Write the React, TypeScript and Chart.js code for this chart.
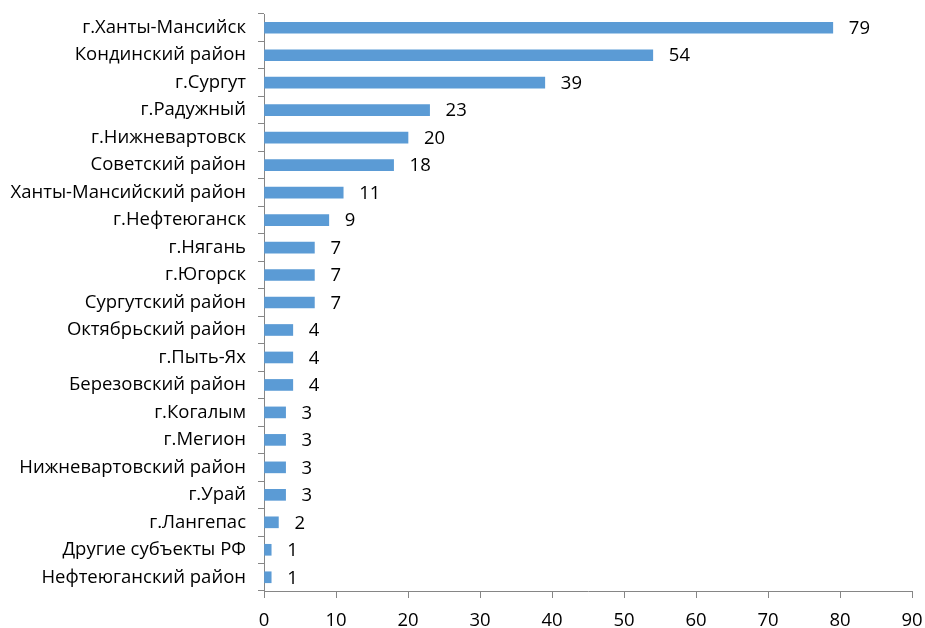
import React, { useEffect, useRef } from "react";
import { Chart, registerables } from "chart.js";

Chart.register(...registerables);

const categories = [
  "г.Ханты-Мансийск",
  "Кондинский район",
  "г.Сургут",
  "г.Радужный",
  "г.Нижневартовск",
  "Советский район",
  "Ханты-Мансийский район",
  "г.Нефтеюганск",
  "г.Нягань",
  "г.Югорск",
  "Сургутский район",
  "Октябрьский район",
  "г.Пыть-Ях",
  "Березовский район",
  "г.Когалым",
  "г.Мегион",
  "Нижневартовский район",
  "г.Урай",
  "г.Лангепас",
  "Другие субъекты РФ",
  "Нефтеюганский район",
];
const values = [79, 54, 39, 23, 20, 18, 11, 9, 7, 7, 7, 4, 4, 4, 3, 3, 3, 3, 2, 1, 1];
const xMin = 0;
const xMax = 90;
const xStep = 10;

const FONT = "'Open Sans', sans-serif";
const FSIZE = 18.5;

const valueLabels = {
  id: "valueLabels",
  afterDatasetsDraw(chart: any) {
    const ctx = chart.ctx;
    const meta = chart.getDatasetMeta(0);
    ctx.save();
    ctx.font = `${FSIZE}px ${FONT}`;
    ctx.fillStyle = "#000";
    ctx.textAlign = "left";
    ctx.textBaseline = "middle";
    meta.data.forEach((bar: any, i: number) => {
      ctx.fillText(String(values[i]), bar.x + 16, bar.y + 1);
    });
    ctx.restore();
  },
};

export default function App() {
  const ref = useRef<HTMLCanvasElement>(null);
  useEffect(() => {
    document.body.style.margin = "0";
    const chart = new Chart(ref.current!, {
      type: "bar",
      data: {
        labels: categories,
        datasets: [
          {
            data: values,
            backgroundColor: "#5B9BD5",
            barThickness: 11,
          },
        ],
      },
      options: {
        indexAxis: "y",
        animation: false,
        responsive: false,
        layout: { padding: { top: 14, right: 13, left: 0, bottom: 0 } },
        plugins: { legend: { display: false }, tooltip: { enabled: false } },
        scales: {
          x: {
            min: xMin,
            max: xMax,
            ticks: { stepSize: xStep, color: "#000", font: { family: FONT, size: FSIZE }, padding: 12 },
            grid: { drawOnChartArea: false, drawTicks: true, tickLength: 7, color: "#868686" },
            border: { color: "#868686" },
            afterFit: (s: any) => { s.height = 37; s.paddingLeft = 0; s.paddingRight = 0; },
          },
          y: {
            ticks: { color: "#000", font: { family: FONT, size: FSIZE }, padding: 12, autoSkip: false },
            grid: { drawOnChartArea: false, drawTicks: true, tickLength: 6, color: "#868686", offset: true },
            border: { color: "#868686" },
            afterFit: (s: any) => { s.width = 264; s.paddingTop = 0; s.paddingBottom = 0; },
          },
        },
      },
      plugins: [valueLabels],
    });
    return () => chart.destroy();
  }, []);
  return (
    <div style={{ width: 925, height: 628, background: "#fff" }}>
      <canvas ref={ref} width={925} height={628} />
    </div>
  );
}
